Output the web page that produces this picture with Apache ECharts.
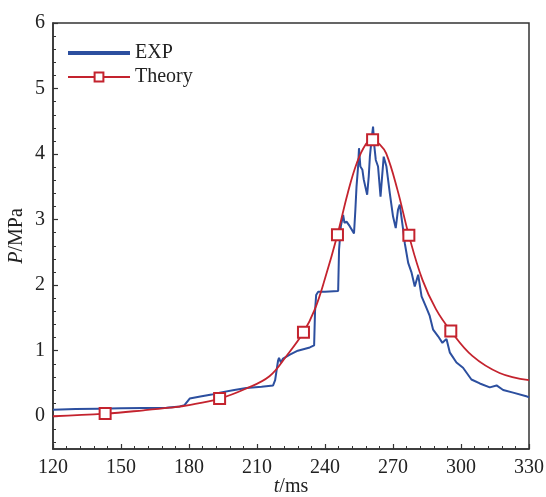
<!DOCTYPE html>
<html>
<head>
<meta charset="utf-8">
<script src="https://cdn.jsdelivr.net/npm/echarts@6/dist/echarts.min.js"></script>
<style>html,body{margin:0;padding:0;background:#fff;}#c{width:546px;height:497px;}</style>
</head>
<body>
<div id="c"></div>
<script>
var xTicks = [120, 150, 180, 210, 240, 270, 300, 330];
var yTicks = [0, 1, 2, 3, 4, 5, 6];
var yMinorTicks = [-0.4, -0.2, 0.2, 0.4, 0.6, 0.8, 1.2, 1.4, 1.6, 1.8, 2.2, 2.4, 2.6, 2.8, 3.2, 3.4, 3.6, 3.8, 4.2, 4.4, 4.6, 4.8, 5.2, 5.4, 5.6, 5.8];

var expT = [120,130,140,150,160,170,176,178,180.3,185,190,193.6,200,205.3,212,217.1,218,218.6,219.3,219.7,220.5,221.5,224.5,228,233.3,235.2,235.6,236.1,237,240,245.8,246.2,247,248,248.6,249.5,250.9,252.8,253.4,253.9,254.6,255,255.6,256.5,257.1,258.6,259.3,259.8,260.5,261.2,261.8,262.4,263.4,264.5,265.2,265.9,267.1,268.6,270,271.2,272.2,273,274.5,275.2,276.7,278.2,279.6,281.1,282.6,284.8,286.2,287.7,289.9,291.8,293.6,295.1,298,300.9,304.6,308.3,312.7,315.7,318.6,323,329.2,330];
var expP = [0.10,0.11,0.115,0.12,0.125,0.13,0.15,0.17,0.27,0.30,0.33,0.36,0.40,0.43,0.45,0.47,0.55,0.69,0.85,0.89,0.82,0.88,0.94,1.00,1.05,1.08,1.60,1.85,1.90,1.90,1.91,2.54,2.90,3.07,2.95,2.97,2.90,2.79,3.15,3.50,3.81,4.09,3.81,3.76,3.61,3.38,3.66,3.96,4.21,4.42,4.11,3.91,3.81,3.35,3.66,3.96,3.81,3.40,3.05,2.87,3.15,3.23,2.84,2.64,2.34,2.19,1.98,2.16,1.83,1.65,1.53,1.32,1.22,1.12,1.18,0.97,0.82,0.74,0.56,0.50,0.44,0.47,0.40,0.36,0.30,0.29];

var thT = [120,143,160,171.5,180,193.5,205,215.5,223,230.5,235.5,240,245.5,250,254,258,261,264,267,272,277,283,289,295.5,305,317,330];
var thP = [0.00,0.04,0.09,0.13,0.17,0.27,0.42,0.61,0.92,1.28,1.63,2.10,2.77,3.40,3.86,4.15,4.22,4.15,4.01,3.45,2.76,2.08,1.63,1.30,0.92,0.66,0.55];
var thMarkT = [143,193.5,230.5,245.5,261,277,295.5];

var chart = echarts.init(document.getElementById('c'));
var font = 'Liberation Serif, Times New Roman, serif';
var axisCol = '#333';
var fs = 20;

var expData = expT.map(function(t, i){ return [t, expP[i]]; });
var thData = thT.map(function(t, i){
  var on = thMarkT.indexOf(t) >= 0;
  return on ? {value:[t, thP[i]]} : {value:[t, thP[i]], symbol:'none'};
});

chart.setOption({
  animation: false,
  backgroundColor: '#fff',
  grid: {left: 53, right: 17, top: 23, bottom: 48, containLabel: false, outerBoundsMode: 'none', show: true, borderColor: axisCol, borderWidth: 1.5, backgroundColor: 'transparent'},
  legend: {
    left: 61, top: 38, orient: 'vertical', itemWidth: 62, itemHeight: 11, itemGap: 4,
    textStyle: {fontFamily: font, fontSize: fs, color: '#222'},
    data: [{name: 'EXP', itemStyle: {opacity: 0}, lineStyle: {width: 4}}, 'Theory']
  },
  xAxis: {
    type: 'value', min: 120, max: 330, interval: 30,
    name: '{i|t}/ms', nameLocation: 'middle', nameGap: 28, nameMoveOverlap: false,
    nameTextStyle: {fontFamily: font, fontSize: fs, color: '#222', rich: {i: {fontFamily: font, fontStyle: 'italic', fontSize: fs, color: '#222'}}},
    axisLine: {show: true, onZero: false, lineStyle: {color: axisCol, width: 1.5}},
    axisTick: {show: true, inside: true, length: 5, lineStyle: {color: axisCol, width: 1.2}},
    minorTick: {show: true, splitNumber: 5, length: 3, lineStyle: {color: axisCol, width: 1}},
    splitLine: {show: false},
    axisLabel: {fontFamily: font, fontSize: fs, color: '#222', margin: 9}
  },
  yAxis: [{
    type: 'value', min: -0.5, max: 6,
    name: '{i|P}/MPa', nameLocation: 'middle', nameGap: 26, nameRotate: 90, nameMoveOverlap: false,
    nameTextStyle: {fontFamily: font, fontSize: fs, color: '#222', rich: {i: {fontFamily: font, fontStyle: 'italic', fontSize: fs, color: '#222'}}},
    axisLine: {show: true, onZero: false, lineStyle: {color: axisCol, width: 1.5}},
    axisTick: {show: true, inside: true, length: 5, customValues: yTicks, lineStyle: {color: axisCol, width: 1.2}},
    splitLine: {show: false},
    axisLabel: {fontFamily: font, fontSize: fs, color: '#222', margin: 8, customValues: yTicks}
  }, {
    type: 'value', min: -0.5, max: 6, position: 'left',
    axisLine: {show: false, onZero: false},
    axisTick: {show: true, inside: true, length: 3, customValues: yMinorTicks, lineStyle: {color: axisCol, width: 1}},
    splitLine: {show: false},
    axisLabel: {show: false}
  }],
  series: [{
    name: 'EXP', type: 'line', data: expData, showSymbol: false, symbol: 'none',
    lineStyle: {color: '#2c4f9f', width: 2}, itemStyle: {color: '#2c4f9f'}, z: 2
  }, {
    name: 'Theory', type: 'line', data: thData, smooth: 0.4,
    symbol: 'emptyRect', symbolSize: 11, showSymbol: true,
    lineStyle: {color: '#c4232e', width: 1.8},
    itemStyle: {color: '#c4232e', borderColor: '#c4232e', borderWidth: 1.8},
    z: 3
  }]
});
</script>
</body>
</html>
